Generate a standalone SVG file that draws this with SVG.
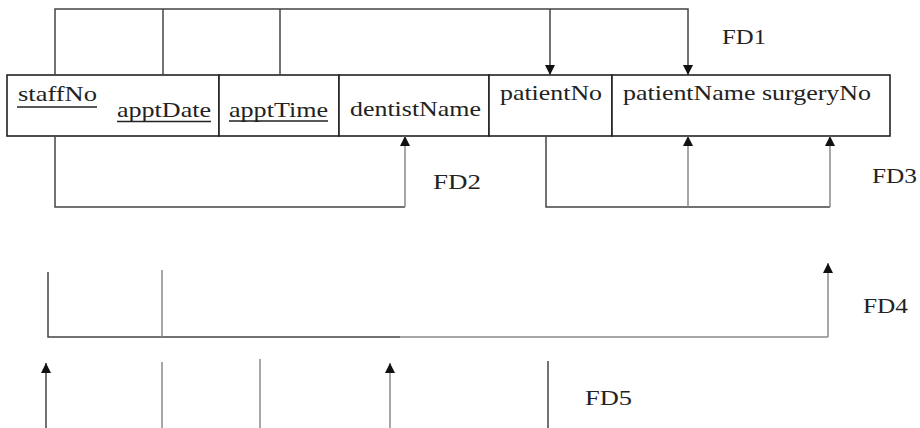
<svg xmlns="http://www.w3.org/2000/svg" width="920" height="428" viewBox="0 0 920 428">
<style>
.cell{fill:#fff;stroke:#222;stroke-width:1.6}
.t{font-family:'Liberation Serif','Times New Roman',serif;font-size:21px;fill:#222}
.fd{font-family:'Liberation Serif','Times New Roman',serif;font-size:22px;fill:#222}
.ul{stroke:#222;stroke-width:1.4}
.c{fill:none;stroke:#444;stroke-width:1.5}
.g{fill:none;stroke:#8a8a8a;stroke-width:1.5}
.a{marker-end:url(#ah)}
</style>
<defs>
<marker id="ah" markerUnits="userSpaceOnUse" markerWidth="12" markerHeight="12" refX="10" refY="6" orient="auto">
<path d="M0,1 L10,6 L0,11 Z" fill="#111"/>
</marker>
</defs>
<g id="table">
<g id="staffNo_apptDate">
<rect class="cell" x="7" y="75" width="212" height="61"/>
<text class="t" x="18" y="101" textLength="79" lengthAdjust="spacingAndGlyphs">staffNo</text>
<line class="ul" x1="17" y1="107" x2="97" y2="107"/>
<text class="t" x="117" y="116.5" textLength="94" lengthAdjust="spacingAndGlyphs">apptDate</text>
<line class="ul" x1="117" y1="121.5" x2="211" y2="121.5"/>
</g>
<g id="apptTime">
<rect class="cell" x="219" y="75" width="120" height="61"/>
<text class="t" x="229" y="116.5" textLength="99" lengthAdjust="spacingAndGlyphs">apptTime</text>
<line class="ul" x1="229" y1="121" x2="328" y2="121"/>
</g>
<g id="dentistName">
<rect class="cell" x="339" y="75" width="150" height="61"/>
<text class="t" x="350" y="116" textLength="131" lengthAdjust="spacingAndGlyphs">dentistName</text>
</g>
<g id="patientNo">
<rect class="cell" x="489" y="75" width="123" height="61"/>
<text class="t" x="500" y="100" textLength="102" lengthAdjust="spacingAndGlyphs">patientNo</text>
</g>
<g id="patientName_surgeryNo">
<rect class="cell" x="612" y="75" width="278" height="61"/>
<text class="t" x="623" y="100" textLength="248" lengthAdjust="spacingAndGlyphs">patientName surgeryNo</text>
</g>
</g>
<g id="connectors">
<path class="c a" d="M55,75 V9 H688 V75"/>
<path class="c" d="M163,75 V9"/>
<path class="c" d="M280,75 V9"/>
<path class="c a" d="M550,9 V75"/>
<path class="c" d="M55,136 V207 H405"/>
<path class="g a" d="M405,207 V136"/>
<path class="c" d="M546,136 V207 H830"/>
<path class="g a" d="M830,207 V136"/>
<path class="g a" d="M688,207 V136"/>
<path class="c" d="M48,272 V337 H400"/>
<path class="g" d="M400,337 H828"/>
<path class="g a" d="M828,337 V263"/>
<path class="g" d="M162,270 V337"/>
<path class="c a" d="M46,428 V363"/>
<path class="g" d="M162,362 V428"/>
<path class="g" d="M260,359 V428"/>
<path class="g a" d="M390,428 V363"/>
<path class="c" d="M548,361 V428"/>
</g>
<g id="labels">
<text class="fd" x="722" y="44" textLength="44" lengthAdjust="spacingAndGlyphs">FD1</text>
<text class="fd" x="433" y="189" textLength="48" lengthAdjust="spacingAndGlyphs">FD2</text>
<text class="fd" x="872" y="183" textLength="45" lengthAdjust="spacingAndGlyphs">FD3</text>
<text class="fd" x="863" y="313" textLength="45" lengthAdjust="spacingAndGlyphs">FD4</text>
<text class="fd" x="585" y="405" textLength="47" lengthAdjust="spacingAndGlyphs">FD5</text>
</g>
</svg>
